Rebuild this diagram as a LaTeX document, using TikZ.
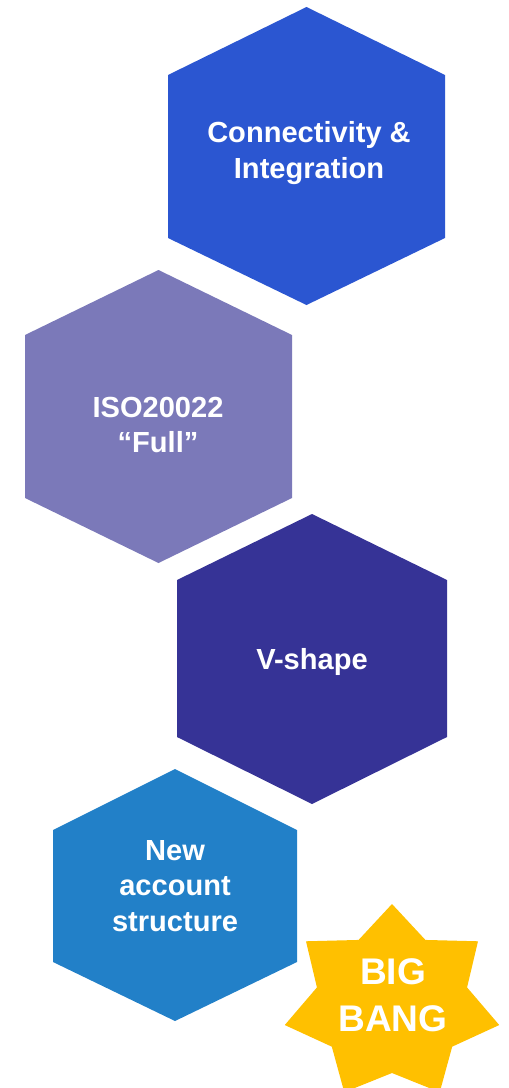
\documentclass[tikz,border=0pt]{standalone}
\usepackage{fontspec}
\setmainfont{Liberation Sans}
\definecolor{hexA}{RGB}{43,86,209}
\definecolor{hexB}{RGB}{123,121,185}
\definecolor{hexC}{RGB}{54,51,150}
\definecolor{hexD}{RGB}{34,128,200}
\definecolor{starY}{RGB}{255,192,0}
\begin{document}
\begin{tikzpicture}[x=0.75pt,y=-0.75pt,
  lbl/.style={text=white,font=\bfseries\fontsize{21.8}{26.5}\selectfont,align=center,inner sep=0pt},
  biglbl/.style={text=white,font=\bfseries\fontsize{27.8}{35}\selectfont,align=center,inner sep=0pt}]
\useasboundingbox (0,0) rectangle (508,1088);
\clip (0,0) rectangle (508,1088);
% hexagons
\fill[hexA] (306.5,7) -- (445,75) -- (445,238) -- (306.5,305) -- (168,238) -- (168,75) -- cycle;
\fill[hexB] (158.5,270) -- (292,335) -- (292,498) -- (158.5,563) -- (25,498) -- (25,335) -- cycle;
\fill[hexC] (312,514) -- (447,580) -- (447,737) -- (312,804) -- (177,737) -- (177,580) -- cycle;
\fill[hexD] (175,769) -- (297,830) -- (297,962) -- (175,1021) -- (53,962) -- (53,830) -- cycle;
% star
\fill[starY] plot[samples at={0,...,13}] ({392+(mod(\x,2)==0 ? 110 : 77)*cos(90+\x*180/7)},{1003-(mod(\x,2)==0 ? 99 : 70)*sin(90+\x*180/7)}) -- cycle;
\node[lbl] (t1) at (309,153) {Connectivity \&\\Integration};
\node[lbl] (t2) at (158,425) {ISO20022\\“Full”};
\node[lbl] (t3) at (312,662) {V-shape};
\node[lbl] (t4) at (175,886) {New\\account\\structure};
\node[biglbl] (t5) at (393,995) {BIG\\BANG};
\end{tikzpicture}
\end{document}
